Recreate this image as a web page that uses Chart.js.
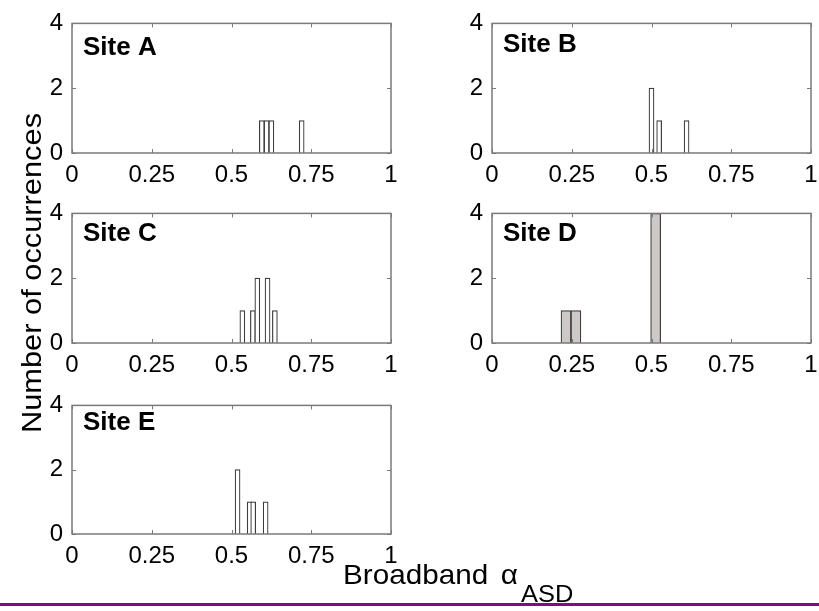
<!DOCTYPE html>
<html>
<head>
<meta charset="utf-8">
<script src="https://cdn.jsdelivr.net/npm/chart.js@4"></script>
<style>
  html, body { margin: 0; padding: 0; background: #fff; overflow: hidden; }
  body { width: 819px; height: 611px; position: relative; font-family: 'Liberation Sans', Arial, sans-serif; }
  canvas { position: absolute; }
  .ttl { position: absolute; color: #000; font-size: 28px; line-height: 28px; white-space: nowrap; }
  #ytitle { width: 400px; height: 28px; left: -168px; top: 259px; text-align: center; transform: rotate(-90deg) scaleX(1.1); }
  #xtitle { left: 343px; top: 561px; transform-origin: left center; transform: scaleX(1.06); }
  #xtitle .al { margin-left: 4px; }
  #xtitle sub { font-size: 24px; vertical-align: -18px; line-height: 0; margin-left: 3px; }
  #bottomline { position: absolute; left: 0; top: 603px; width: 819px; height: 3px; background: #840a84; }
</style>
</head>
<body>
<canvas id="siteA"></canvas>
<canvas id="siteB"></canvas>
<canvas id="siteC"></canvas>
<canvas id="siteD"></canvas>
<canvas id="siteE"></canvas>
<div class="ttl" id="ytitle">Number of occurrences</div>
<div class="ttl" id="xtitle">Broadband <span class="al">α</span><sub>ASD</sub></div>
<div id="bottomline"></div>
<script>
// histogram bins: bin centre (alpha) and count
const siteNames = ["Site A", "Site B", "Site C", "Site D", "Site E"];
const alphaA = [0.595, 0.610, 0.625, 0.720];
const countA = [1, 1, 1, 1];
const alphaB = [0.500, 0.524, 0.610];
const countB = [2, 1, 1];
const alphaC = [0.534, 0.567, 0.581, 0.613, 0.636];
const countC = [1, 1, 2, 2, 1];
const alphaD = [0.232, 0.263, 0.513];
const countD = [1, 1, 4];
const alphaE = [0.519, 0.557, 0.568, 0.607];
const countE = [2, 1, 1, 1];
const xTicks = [0, 0.25, 0.5, 0.75, 1];
const yTicks = [0, 2, 4];

Chart.defaults.font.family = "'Liberation Sans', Arial, sans-serif";
Chart.defaults.color = "#000";

// plot box of each panel in page pixels
const panels = [
  { id: "siteA", x: alphaA, y: countA, left: 72,  top: 15,  w: 319, h: 138, fill: "#ffffff", bw: 5,  lab: 32 },
  { id: "siteB", x: alphaB, y: countB, left: 492, top: 15,  w: 319, h: 138, fill: "#ffffff", bw: 5,  lab: 29 },
  { id: "siteC", x: alphaC, y: countC, left: 72,  top: 205, w: 319, h: 138, fill: "#ffffff", bw: 5,  lab: 28 },
  { id: "siteD", x: alphaD, y: countD, left: 492, top: 205, w: 319, h: 138, fill: "#cdc9c9", bw: 10, lab: 28 },
  { id: "siteE", x: alphaE, y: countE, left: 72,  top: 397, w: 319, h: 137, fill: "#ffffff", bw: 5,  lab: 25 }
];

const padL = 45, padT = 15, padR = 20, padB = 45;
const frameColor = "#7a7a7a";

const framePlugin = {
  id: "frame",
  afterDatasetsDraw(chart, args, opts) {
    const { ctx, chartArea: a, scales } = chart;
    ctx.save();
    ctx.strokeStyle = frameColor;
    ctx.lineWidth = 1.5;
    ctx.strokeRect(a.left, a.top, a.right - a.left, a.bottom - a.top);
    ctx.lineWidth = 1;
    ctx.beginPath();
    xTicks.forEach(v => {
      const px = Math.round(scales.x.getPixelForValue(v)) + 0.5;
      ctx.moveTo(px, a.bottom); ctx.lineTo(px, a.bottom - 4);
      ctx.moveTo(px, a.top); ctx.lineTo(px, a.top + 4);
    });
    yTicks.forEach(v => {
      const py = Math.round(scales.y.getPixelForValue(v)) + 0.5;
      ctx.moveTo(a.left, py); ctx.lineTo(a.left + 4, py);
      ctx.moveTo(a.right, py); ctx.lineTo(a.right - 4, py);
    });
    ctx.stroke();
    // site name
    ctx.fillStyle = "#000";
    ctx.font = "bold 26px 'Liberation Sans', Arial, sans-serif";
    ctx.textBaseline = "alphabetic";
    ctx.fillText(opts.name, a.left + 11, a.top + opts.lab);
    ctx.restore();
  }
};

panels.forEach((p, i) => {
  const cv = document.getElementById(p.id);
  cv.width = p.w + padL + padR;
  cv.height = p.h + padT + padB;
  cv.style.left = (p.left - padL) + "px";
  cv.style.top = (p.top - padT) + "px";

  new Chart(cv, {
    type: "bar",
    data: {
      datasets: [{
        data: p.x.map((v, k) => ({ x: v, y: p.y[k] })),
        backgroundColor: p.fill,
        borderColor: "#3c3c3c",
        borderWidth: 1.2,
        barThickness: p.bw
      }]
    },
    options: {
      responsive: false,
      animation: false,
      devicePixelRatio: 1,
      layout: { padding: { left: 0, top: padT, right: padR, bottom: 0 } },
      plugins: {
        legend: { display: false },
        tooltip: { enabled: false },
        frame: { name: siteNames[i], lab: p.lab }
      },
      scales: {
        x: {
          type: "linear",
          min: 0, max: 1,
          offset: false,
          grid: { display: false, drawTicks: false, offset: false },
          border: { display: false },
          ticks: {
            stepSize: 0.25, autoSkip: false, maxRotation: 0, padding: 8,
            font: { size: 24 },
            callback: v => String(v)
          },
          afterFit: s => { s.height = padB; }
        },
        y: {
          min: 0, max: 4,
          grid: { display: false, drawTicks: false },
          border: { display: false },
          ticks: {
            stepSize: 2, padding: 9,
            font: { size: 24 },
            callback: v => String(v)
          },
          afterFit: s => { s.width = padL; }
        }
      }
    },
    plugins: [framePlugin]
  });
});
</script>
</body>
</html>
